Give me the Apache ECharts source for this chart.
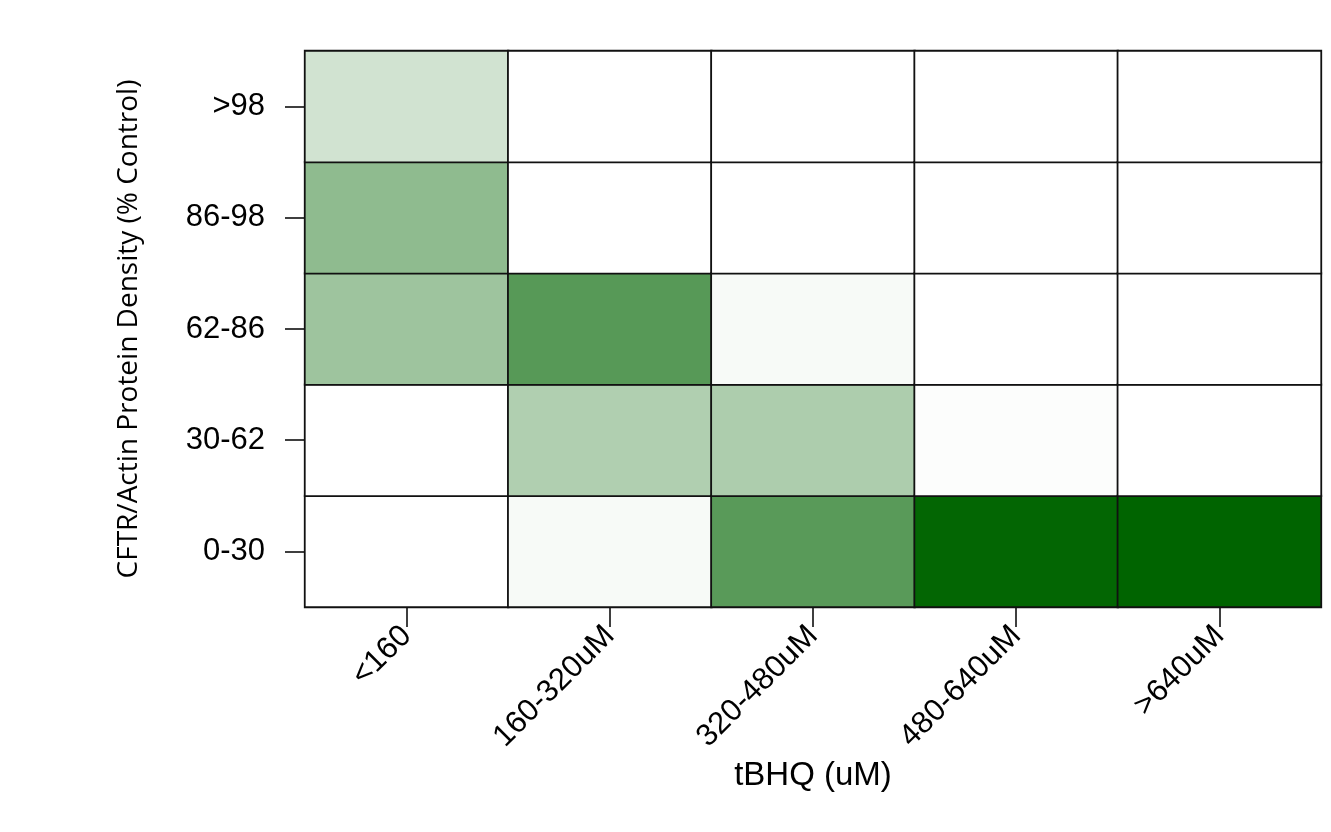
<!DOCTYPE html>
<html>
<head>
<meta charset="utf-8">
<title>CFTR/Actin heatmap</title>
<script src="https://cdn.jsdelivr.net/npm/echarts@6/dist/echarts.min.js"></script>
<style>
  html, body { margin: 0; padding: 0; background: #ffffff; }
  #chart { width: 1331px; height: 832px; }
</style>
</head>
<body>
<div id="chart"></div>
<script>
// Dose bins (columns) and density bins (rows, bottom to top)
const doseBins = ['<160', '160-320uM', '320-480uM', '480-640uM', '>640uM'];
const densityBins = ['0-30', '30-62', '62-86', '86-98', '>98'];

// Share of each dose bin falling in each density bin (ordered as densityBins)
const doseLt160 = [0.00, 0.00, 0.38, 0.44, 0.18];
const dose160to320 = [0.03, 0.31, 0.66, 0.00, 0.00];
const dose320to480 = [0.65, 0.32, 0.03, 0.00, 0.00];
const dose480to640 = [0.99, 0.01, 0.00, 0.00, 0.00];
const doseGt640 = [1.00, 0.00, 0.00, 0.00, 0.00];

const columns = [doseLt160, dose160to320, dose320to480, dose480to640, doseGt640];

const cells = [];
columns.forEach((col, xi) => {
  col.forEach((v, yi) => cells.push([xi, yi, v]));
});

const chart = echarts.init(document.getElementById('chart'), null, { renderer: 'canvas' });

const labelFont = '"Liberation Sans", Arial, sans-serif';

chart.setOption({
  animation: false,
  backgroundColor: '#ffffff',
  grid: { left: 305, right: 10, top: 51, bottom: 225, show: false },
  xAxis: {
    type: 'category',
    data: doseBins,
    position: 'bottom',
    name: 'tBHQ (uM)',
    nameLocation: 'middle',
    nameGap: 142,
    nameTextStyle: { fontFamily: labelFont, fontSize: 33, color: '#000' },
    axisLine: { show: false },
    axisTick: { show: true, alignWithLabel: true, length: 20, lineStyle: { color: '#000', width: 1.5 } },
    axisLabel: {
      rotate: 45,
      margin: 24,
      interval: 0,
      fontFamily: labelFont,
      fontSize: 31,
      color: '#000'
    },
    splitLine: { show: false }
  },
  yAxis: {
    type: 'category',
    data: densityBins,
    name: 'CFTR/Actin Protein Density (% Control)',
    nameLocation: 'middle',
    nameRotate: 90,
    nameGap: 162,
    nameTextStyle: { fontFamily: '"Open Sans", sans-serif', fontSize: 28, color: '#000' },
    axisLine: { show: false },
    axisTick: { show: true, alignWithLabel: true, length: 20, lineStyle: { color: '#000', width: 1.5 } },
    axisLabel: {
      margin: 40,
      fontFamily: labelFont,
      fontSize: 31,
      color: '#000'
    },
    splitLine: { show: false }
  },
  visualMap: {
    show: false,
    min: 0,
    max: 1,
    dimension: 2,
    inRange: { color: ['#ffffff', '#006400'] }
  },
  series: [{
    type: 'heatmap',
    data: cells,
    itemStyle: { borderColor: '#111111', borderWidth: 1.8 },
    emphasis: { disabled: true },
    label: { show: false }
  }]
});
</script>
</body>
</html>
